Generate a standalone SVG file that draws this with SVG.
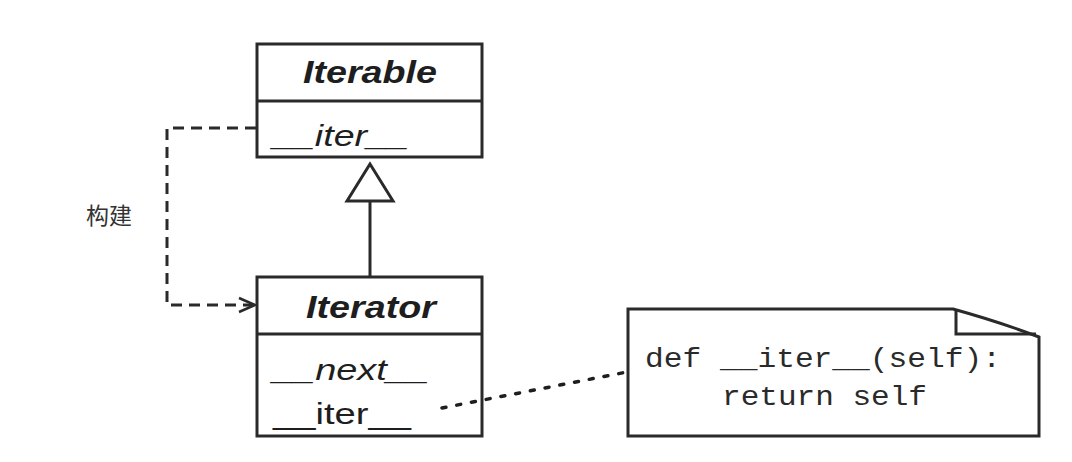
<svg xmlns="http://www.w3.org/2000/svg" width="1072" height="462" viewBox="0 0 1072 462">
<style>
.box{fill:#fff;stroke:#2a2a2a;stroke-width:3}
.line{fill:none;stroke:#2a2a2a;stroke-width:3}
.title{font-family:"Liberation Sans",Arial,sans-serif;font-weight:bold;font-style:italic;font-size:31px;fill:#1e1e1e;text-anchor:middle}
.member{font-family:"Liberation Sans",Arial,sans-serif;font-size:30px;fill:#1e1e1e}
.code{font-family:"Liberation Mono","Courier New",monospace;font-size:28px;fill:#2a2a2a}
.label{font-family:"Noto Sans CJK SC",sans-serif;font-size:23px;fill:#333}
</style>
<defs>
<marker id="open" viewBox="0 0 20 20" refX="18" refY="10" markerWidth="20" markerHeight="20" markerUnits="userSpaceOnUse" orient="auto">
<path d="M2,3 L18,10 L2,17" fill="none" stroke="#2a2a2a" stroke-width="2.5"/>
</marker>
</defs>
<rect width="1072" height="462" fill="#fff"/>
<g id="iterable">
<rect class="box" x="257" y="44" width="225" height="113"/>
<line class="line" x1="257" y1="101" x2="482" y2="101"/>
<text class="title" x="370" y="83" textLength="134" lengthAdjust="spacingAndGlyphs">Iterable</text>
<text class="member" x="273" y="146" font-style="italic" textLength="136" lengthAdjust="spacingAndGlyphs">__iter__</text>
</g>
<g id="iterator">
<rect class="box" x="257" y="277" width="225" height="159"/>
<line class="line" x1="257" y1="334" x2="482" y2="334"/>
<text class="title" x="371" y="318" textLength="130" lengthAdjust="spacingAndGlyphs">Iterator</text>
<text class="member" x="273" y="380" font-style="italic" textLength="156" lengthAdjust="spacingAndGlyphs">__next__</text>
<text class="member" x="273" y="424" textLength="138" lengthAdjust="spacingAndGlyphs">__iter__</text>
</g>
<g id="note">
<path class="box" d="M628,309 H953 Q1000,322 1039,337 V436 H628 Z"/>
<path class="line" d="M956,311 V334 H1036" stroke-width="2.5"/>
<text class="code" x="645" y="367" textLength="356" lengthAdjust="spacingAndGlyphs" xml:space="preserve">def __iter__(self):</text>
<text class="code" x="722" y="405" textLength="205" lengthAdjust="spacingAndGlyphs">return self</text>
</g>
<g id="label">
<text class="label" x="86" y="224">构建</text>
</g>
<g id="connectors">
<path class="line" d="M256,128 H167 V305 H255" stroke-dasharray="11,7" marker-end="url(#open)"/>
<line class="line" x1="370" y1="201" x2="370" y2="276"/>
<polygon points="370,164 347,201 393,201" fill="#fff" stroke="#2a2a2a" stroke-width="3"/>
<line x1="442" y1="408" x2="627" y2="372" stroke="#1e1e1e" stroke-width="3.5" stroke-dasharray="4,11" stroke-linecap="round"/>
</g>
</svg>
